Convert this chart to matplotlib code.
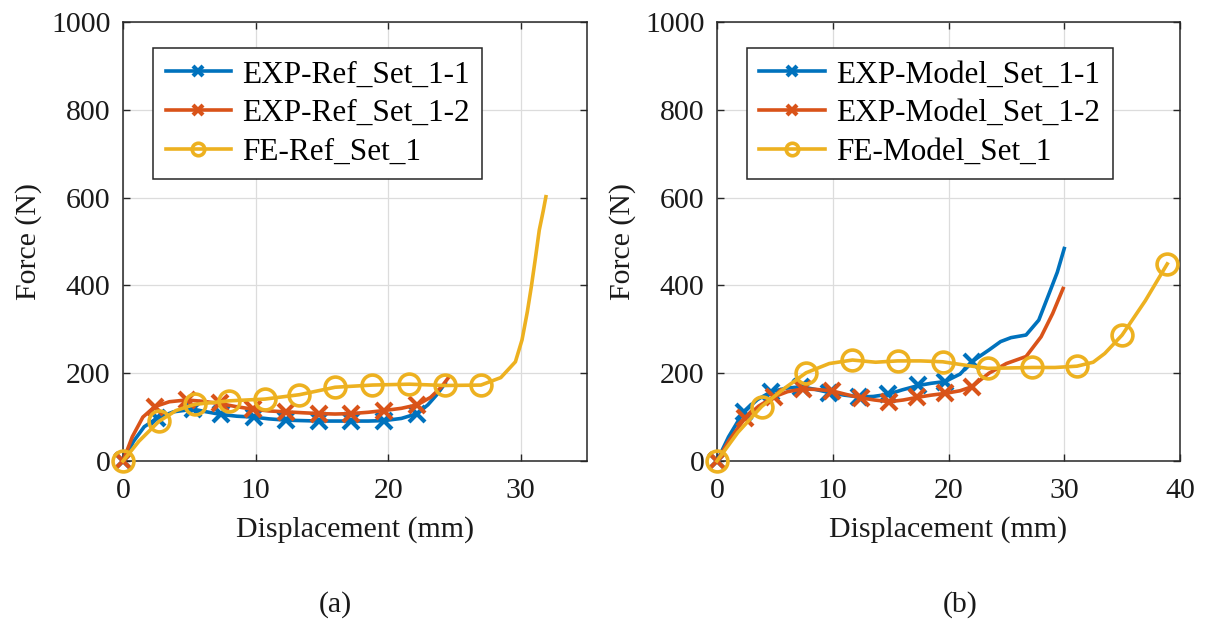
import matplotlib
matplotlib.use("Agg")
import matplotlib.pyplot as plt

plt.rcParams['font.family'] = ['Liberation Serif', 'DejaVu Serif']
plt.rcParams['mathtext.fontset'] = 'stix'

BLUE = '#0072BD'
RED = '#D95319'
YELLOW = '#EDB120'

# ---- (a) reference parameter set ----
ref11_x = [0, 0.8, 1.6, 2.6, 3.8, 5.3, 6.3, 7.4, 8.6, 9.85, 11.0, 12.3, 13.5, 14.8,
           16.0, 17.2, 18.5, 19.7, 21.0, 22.2, 23.0, 23.7, 24.3]
ref11_y = [0, 45, 78, 98, 112, 118, 112, 106, 102, 100, 96, 93, 92, 91,
           91, 91, 91, 92, 97, 108, 128, 152, 177]
ref11_marks = [0, 3, 5, 7, 9, 11, 13, 15, 17, 19]

ref12_x = [0, 0.7, 1.5, 2.4, 3.5, 4.8, 6.0, 7.3, 8.5, 9.8, 11.0, 12.3, 13.5, 14.8,
           16.0, 17.2, 18.5, 19.7, 21.0, 22.2, 23.2, 24.0, 24.6]
ref12_y = [0, 55, 100, 124, 135, 139, 136, 131, 124, 118, 114, 112, 110, 108,
           107, 108, 111, 115, 120, 128, 145, 168, 192]
ref12_marks = [0, 3, 5, 7, 9, 11, 13, 15, 17, 19]

feref_x = [0, 1.2, 2.7, 4.0, 5.4, 8.0, 10.7, 13.3, 16.0, 18.8, 21.6, 24.3, 27.0,
           28.5, 29.6, 30.1, 30.5, 30.8, 31.1, 31.4, 31.7, 31.9]
feref_y = [0, 45, 90, 115, 129, 137, 141, 151, 168, 173, 175, 172, 173,
           190, 226, 276, 340, 397, 460, 526, 570, 602]
feref_marks = [0, 2, 4, 5, 6, 7, 8, 9, 10, 11, 12]

# ---- (b) model parameter set ----
mod11_x = [0, 1.0, 2.3, 3.5, 4.7, 6.0, 7.3, 8.5, 9.7, 11.0, 12.3, 13.5, 14.8, 16.0,
           17.4, 18.5, 19.7, 21.0, 22.0, 23.5, 24.5, 25.4, 26.7, 27.8, 28.7, 29.4, 30.0]
mod11_y = [0, 55, 112, 140, 158, 166, 169, 163, 156, 150, 146, 147, 152, 162,
           172, 177, 181, 198, 226, 253, 272, 281, 287, 321, 382, 430, 484]
mod11_marks = [0, 2, 4, 6, 8, 10, 12, 14, 16, 18]

mod12_x = [0, 1.0, 2.4, 3.6, 4.9, 6.1, 7.4, 8.6, 9.9, 11.1, 12.4, 13.6, 14.9, 16.1,
           17.3, 18.5, 19.7, 21.0, 22.0, 23.5, 25.0, 26.7, 28.0, 29.0, 29.9]
mod12_y = [0, 45, 97, 125, 146, 158, 164, 163, 160, 152, 144, 139, 135, 139,
           145, 150, 154, 160, 169, 200, 222, 238, 283, 336, 393]
mod12_marks = [0, 2, 4, 6, 8, 10, 12, 14, 16, 18]

femod_x = [0, 1.8, 3.85, 5.8, 7.7, 9.7, 11.7, 13.7, 15.6, 17.6, 19.5, 21.5, 23.4,
           25.3, 27.2, 29.2, 31.1, 32.5, 33.5, 35.0, 37.0, 38.9]
femod_y = [0, 65, 124, 165, 201, 222, 230, 225, 228, 228, 226, 218, 211,
           212, 213, 213, 216, 225, 245, 287, 365, 449]
femod_marks = [0, 2, 4, 6, 8, 10, 12, 14, 16, 19, 21]

labels_a = ['EXP-Ref_Set_1-1', 'EXP-Ref_Set_1-2', 'FE-Ref_Set_1']
labels_b = ['EXP-Model_Set_1-1', 'EXP-Model_Set_1-2', 'FE-Model_Set_1']

W, H = 1209, 621
fig = plt.figure(figsize=(W / 100, H / 100), dpi=100)

FS = 21.5
LEG_FS = 22.5
LW = 2.6


def axes_px(x0, y0, x1, y1):
    return fig.add_axes([x0 / W, 1 - y1 / H, (x1 - x0) / W, (y1 - y0) / H])


def style(ax, xmax, xticks):
    ax.set_xlim(0, xmax)
    ax.set_ylim(0, 1000)
    ax.set_xticks(xticks)
    ax.set_yticks(range(0, 1001, 200))
    ax.grid(True, color='#dcdcdc', linewidth=0.9)
    ax.set_axisbelow(True)
    ax.tick_params(direction='in', length=5, width=1.0, colors='#262626',
                   top=True, right=True, labelsize=FS, labelcolor='#1a1a1a')
    ax.tick_params(axis='x', pad=12)
    ax.tick_params(axis='y', pad=9)
    for s in ax.spines.values():
        s.set_color('#262626')
        s.set_linewidth(1.1)
    ax.set_xlabel('Displacement (mm)', fontsize=FS, color='#1a1a1a')
    ax.set_ylabel('Force (N)', fontsize=FS, color='#1a1a1a')
    ax.xaxis.set_label_coords(0.5, -0.157)
    ax.xaxis.label.set_va('center')
    ax.yaxis.label.set_va('center')


def draw(ax, series, labels):
    markers = ['x', 'x', 'o']
    colors = [BLUE, RED, YELLOW]
    for (x, y, mk), lab, m, c in zip(series, labels, markers, colors):
        if m == 'x':
            ax.plot(x, y, color=c, lw=LW, marker='x', ms=11, mew=3.0,
                    markevery=mk, label=lab, clip_on=False, zorder=3)
        else:
            ax.plot(x, y, color=c, lw=LW, marker='o', ms=15, mew=2.6,
                    mfc='none', markevery=mk, label=lab, clip_on=False, zorder=3)
    leg = ax.legend(loc='upper left', bbox_to_anchor=(0.0647, 0.941),
                    borderaxespad=0, fontsize=LEG_FS, handlelength=2.1,
                    handletextpad=0.35, labelspacing=0.31, borderpad=0.4,
                    fancybox=False, framealpha=1, edgecolor='#262626',
                    markerscale=0.6)
    leg.get_frame().set_linewidth(1.1)


ax1 = axes_px(123, 22, 587, 461)
style(ax1, 35, [0, 10, 20, 30])
ax1.yaxis.set_label_coords(-0.203, 0.5)
draw(ax1, [(ref11_x, ref11_y, ref11_marks), (ref12_x, ref12_y, ref12_marks),
           (feref_x, feref_y, feref_marks)], labels_a)

ax2 = axes_px(717, 22, 1180, 461)
style(ax2, 40, [0, 10, 20, 30, 40])
ax2.yaxis.set_label_coords(-0.203, 0.5)
draw(ax2, [(mod11_x, mod11_y, mod11_marks), (mod12_x, mod12_y, mod12_marks),
           (femod_x, femod_y, femod_marks)], labels_b)

fig.text(335 / W, 1 - 605 / H, '(a)', fontsize=FS, ha='center', va='center', color='#1a1a1a')
fig.text(960 / W, 1 - 605 / H, '(b)', fontsize=FS, ha='center', va='center', color='#1a1a1a')

fig.savefig('out.png', dpi=100, facecolor='white')
